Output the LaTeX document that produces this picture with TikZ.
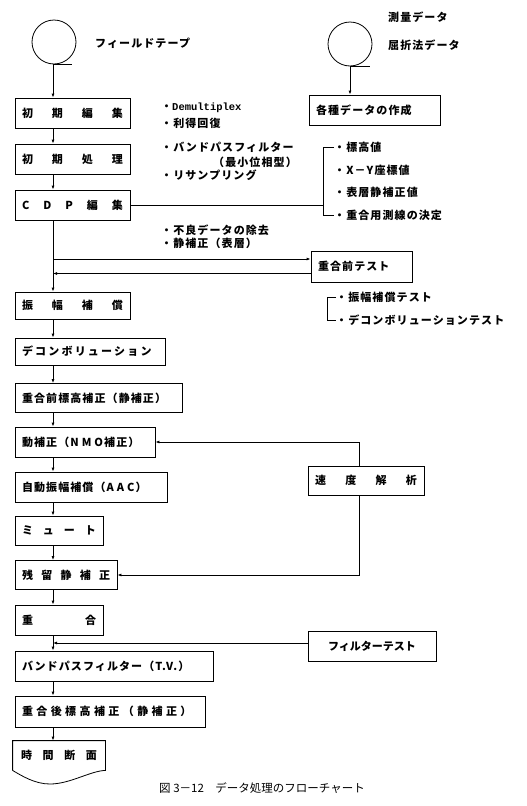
\documentclass[tikz,border=0pt]{standalone}
\usepackage{fontspec}
\setmainfont{Noto Sans CJK JP}[LetterSpace=10]
\newfontfamily\captionjp{Noto Sans CJK JP}
\newfontfamily\monob{Liberation Mono}
\usepackage{tikz}
\usetikzlibrary{arrows.meta}
\tikzset{
  procBox/.style={draw, line width=0.8pt, align=left, inner xsep=7pt, inner ysep=0pt, minimum height=30pt, font=\bfseries\fontsize{11}{13}\selectfont},
  procNote/.style={anchor=west, inner sep=0pt, font=\bfseries\fontsize{11}{13}\selectfont},
  procTape/.style={draw, circle, line width=0.8pt, minimum size=44pt, inner sep=0pt},
  procArrow/.style={->, line width=0.8pt},
  procLine/.style={line width=0.8pt},
  procCaption/.style={inner sep=0pt, font=\captionjp\fontsize{11.5}{13}\selectfont}
}

\begin{document}
\begin{tikzpicture}[x=1pt, y=-1pt, >={Latex[length=4pt,width=3pt]}]
      \useasboundingbox (0,0) rectangle (527,806);
      \coordinate (spine) at (53,0);
      \node[procTape] (fieldTape) at (54,42) {};
      \node[procTape] (surveyTape) at (350,44) {};
      \node[procNote] (fieldLabel) at (95,43) {フィールドテープ};
      \node[procNote] (surveyLabel) at (388,17) {測量データ};
      \node[procNote] (refracLabel) at (388,45) {屈折法データ};
      \node[procBox, text width=101pt] (shokiHenshu) at (72.5,113) {初\hfill 期\hfill 編\hfill 集};
      \node[procBox, text width=101pt] (shokiShori) at (72.5,159) {初\hfill 期\hfill 処\hfill 理};
      \node[procBox, text width=101pt] (cdpHenshu) at (72.5,205) {C\hfill D\hfill P\hfill 編\hfill 集};
      \node[procBox, text width=117pt] (kakushu) at (374.5,110) {各種データの作成};
      \node[procBox, text width=87pt, minimum height=31pt] (maeTest) at (361.5,266.5) {重合前テスト};
      \node[procBox, text width=101pt, minimum height=27pt] (shinpuku) at (72.5,305.5) {振\hfill 幅\hfill 補\hfill 償};
      \node[procBox, text width=136pt, minimum height=27pt] (decon) at (90,351.5) {\addfontfeatures{LetterSpace=20}デコンボリューション};
      \node[procBox, text width=153pt, minimum height=29pt] (maeHyoko) at (98.5,398) {重合前標高補正（静補正）};
      \node[procBox, text width=126pt] (nmo) at (85,442) {動補正（N\kern3pt M\kern3pt O補正）};
      \node[procBox, text width=102pt, minimum height=29pt] (sokudo) at (366,480.5) {速\hfill 度\hfill 解\hfill 析};
      \node[procBox, text width=138pt] (aac) at (91,487) {自動振幅補償（A\kern3pt A\kern3pt C）};
      \node[procBox, text width=74pt, minimum height=29pt] (mute) at (59,530.5) {ミ\hfill ュ\hfill ー\hfill ト};
      \node[procBox, text width=88pt, minimum height=29pt] (zanryu) at (66,575) {残\hfill 留\hfill 静\hfill 補\hfill 正};
      \node[procBox, text width=74pt] (jugo) at (59,620) {重\hfill 合};
      \node[procBox, text width=114pt, align=center] (filterTest) at (372,646) {\addfontfeatures{LetterSpace=0}フィルターテスト};
      \node[procBox, text width=184pt] (bandpass) at (114,666) {バンドパスフィルター（T.V.）};
      \node[procBox, text width=176pt, minimum height=31pt] (atoHyoko) at (110,711.5) {\addfontfeatures{LetterSpace=31}重合後標高補正（静補正）};
      \node[procBox, draw=none, text width=76pt, inner xsep=8pt, minimum height=29pt] (jikan) at (59,755.5) {時\hfill 間\hfill 断\hfill 面};
      \node[procNote] (noteDemux) at (161,108) {・{\monob\fontsize{10.5}{12}\selectfont Demultiplex}};
      \node[procNote] (noteRitoku) at (161,123) {・利得回復};
      \node[procNote] (noteBandpass) at (161,147) {・バンドパスフィルター};
      \node[procNote, anchor=east] (noteMinPhase) at (297,162) {（最小位相型）};
      \node[procNote] (noteResample) at (161,175) {・リサンプリング};
      \node[procNote] (noteHyoko) at (334,147) {・標高値};
      \node[procNote] (noteXY) at (334,170) {・X－Y座標値};
      \node[procNote] (noteHyoso) at (334,192) {・表層静補正値};
      \node[procNote] (noteSokusen) at (334,215) {・重合用測線の決定};
      \node[procNote] (noteFuryo) at (161,230) {・不良データの除去};
      \node[procNote] (noteSeiho) at (161,243) {・静補正（表層）};
      \node[procNote] (noteShinpukuTest) at (336,297) {・振幅補償テスト};
      \node[procNote] (noteDeconTest) at (336,320) {・デコンボリューションテスト};
      \node[procCaption] (caption) at (262,788) {図 3－12\quad データ処理のフローチャート};
      \draw[procLine] (fieldTape.south) -- ++(18,0);
      \draw[procLine] (surveyTape.south) -- ++(20,0);
      \draw[procArrow] (fieldTape.south -| spine) -- (shokiHenshu.north -| spine);
      \draw[procArrow] (surveyTape.south) -- (kakushu.north -| surveyTape.south);
      \draw[procArrow] (shokiHenshu.south -| spine) -- (shokiShori.north -| spine);
      \draw[procArrow] (shokiShori.south -| spine) -- (cdpHenshu.north -| spine);
      \draw[procArrow] (cdpHenshu.south -| spine) -- (shinpuku.north -| spine);
      \draw[procArrow] (shinpuku.south -| spine) -- (decon.north -| spine);
      \draw[procArrow] (decon.south -| spine) -- (maeHyoko.north -| spine);
      \draw[procArrow] (maeHyoko.south -| spine) -- (nmo.north -| spine);
      \draw[procArrow] (nmo.south -| spine) -- (aac.north -| spine);
      \draw[procArrow] (aac.south -| spine) -- (mute.north -| spine);
      \draw[procArrow] (mute.south -| spine) -- (zanryu.north -| spine);
      \draw[procArrow] (zanryu.south -| spine) -- (jugo.north -| spine);
      \draw[procArrow] (jugo.south -| spine) -- (bandpass.north -| spine);
      \draw[procArrow] (bandpass.south -| spine) -- (atoHyoko.north -| spine);
      \draw[procArrow] (atoHyoko.south -| spine) -- (jikan.north -| spine);
      \coordinate (cdpBracketTop) at (323,147);
      \coordinate (cdpBracketBot) at (323,215);
      \draw[procLine] (cdpHenshu.east) -- (cdpHenshu.east -| cdpBracketTop);
      \draw[procLine] (noteHyoko.west) -- (cdpBracketTop) -- (cdpBracketBot) -- (noteSokusen.west);
      \coordinate (testBracketTop) at (327,297);
      \coordinate (testBracketBot) at (327,320);
      \draw[procLine] (noteShinpukuTest.west) -- (testBracketTop) -- (testBracketBot) -- (noteDeconTest.west);
      \coordinate (maeIn) at ([yshift=7.5pt]maeTest.west);
      \coordinate (maeOut) at ([yshift=-7pt]maeTest.west);
      \draw[procArrow] (spine |- maeIn) -- (maeIn);
      \draw[procArrow] (maeOut) -- (spine |- maeOut);
      \draw[procArrow] ([xshift=-7pt]sokudo.north) |- (nmo.east);
      \draw[procArrow] ([xshift=-7pt]sokudo.south) |- (zanryu.east);
      \coordinate (filterOut) at ([yshift=3pt]filterTest.west);
      \draw[procArrow] (filterOut) -- (spine |- filterOut);
      \draw[procLine] (jikan.south west) -- (jikan.north west) -- (jikan.north east) -- (jikan.south east)
        .. controls (90,771) and (70,784) .. (50,784) .. controls (35,784) and (22,776) .. (jikan.south west);
    \end{tikzpicture}
\end{document}
